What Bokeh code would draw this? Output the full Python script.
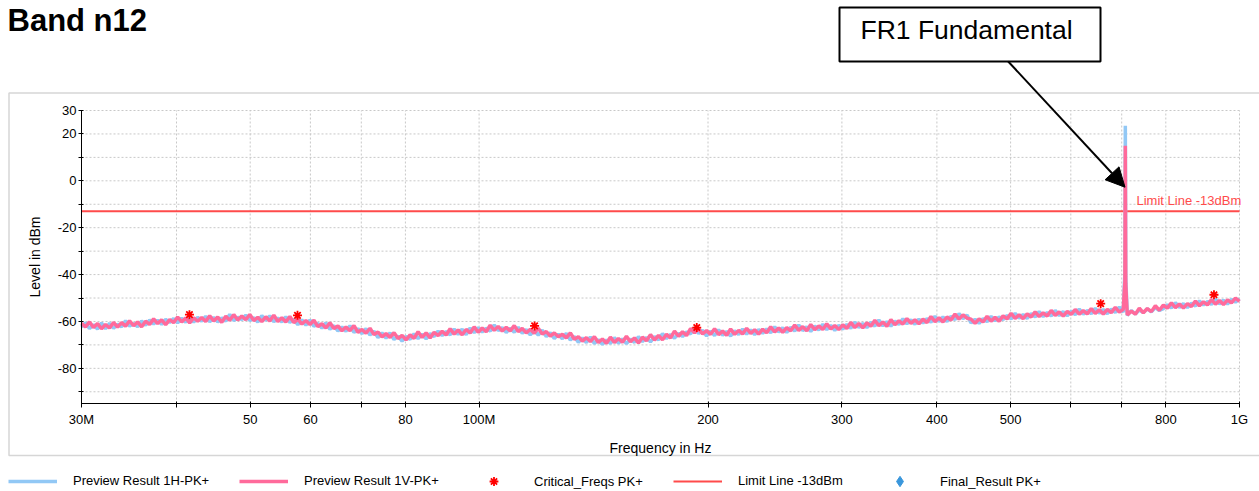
import numpy as np
from bokeh.plotting import figure
from bokeh.models import (Range1d, FixedTicker, Label, BoxAnnotation, Arrow,
                          NormalHead, Legend, LegendItem, LogAxis, LinearAxis,
                          Grid)
from bokeh.embed import file_html
from bokeh.resources import INLINE

# ---------------- data ----------------
sweep_start = 30e6
sweep_stop = 1e9

preview_1v = [
    -60.8, -62.3, -60.2, -62.6, -60.9, -63.1, -61.3, -62.8, -60.4, -62.4,
    -60.5, -62.0, -59.7, -61.8, -60.2, -62.3, -59.9, -61.3, -58.9, -60.9,
    -59.3, -61.4, -59.2, -60.5, -58.1, -60.2, -58.5, -60.6, -58.4, -59.9,
    -58.3, -60.0, -57.6, -59.8, -58.1, -60.4, -57.8, -59.5, -57.1, -59.4,
    -57.7, -59.3, -57.0, -59.6, -58.2, -60.1, -58.0, -59.8, -57.3, -60.0,
    -58.4, -60.2, -57.9, -60.5, -59.0, -61.1, -59.6, -61.3, -59.5, -62.2,
    -61.0, -62.8, -60.6, -63.0, -61.9, -64.0, -62.4, -63.9, -61.8, -64.6,
    -63.4, -65.0, -62.9, -65.6, -64.5, -66.6, -65.2, -66.8, -64.8, -67.3,
    -65.9, -67.9, -65.7, -67.2, -64.4, -66.8, -64.9, -67.0, -64.6, -66.0,
    -64.2, -65.8, -63.1, -65.4, -63.6, -65.7, -63.4, -64.9, -62.3, -64.6,
    -62.8, -64.4, -61.6, -63.8, -62.1, -64.1, -62.5, -64.0, -61.8, -64.3,
    -63.0, -64.9, -63.3, -65.0, -62.9, -65.4, -64.3, -66.3, -64.9, -66.5,
    -65.5, -67.0, -64.9, -67.6, -66.5, -68.4, -66.9, -68.6, -66.5, -69.0,
    -67.5, -69.3, -66.7, -69.0, -67.3, -68.9, -66.3, -68.7, -67.0, -69.2,
    -66.7, -68.2, -65.6, -67.9, -66.0, -67.8, -65.5, -67.0, -64.1, -66.3,
    -64.4, -66.0, -63.0, -64.8, -63.2, -65.3, -63.9, -65.5, -63.1, -65.6,
    -64.1, -65.9, -63.2, -65.5, -63.8, -65.3, -62.9, -65.1, -63.5, -65.4,
    -63.3, -64.8, -62.3, -64.5, -62.8, -64.6, -62.6, -64.0, -61.5, -63.8,
    -62.2, -64.0, -61.3, -63.5, -61.9, -63.4, -61.0, -63.2, -61.7, -63.5,
    -61.4, -63.0, -60.4, -62.6, -60.9, -62.7, -60.6, -62.0, -59.5, -61.8,
    -60.2, -62.1, -59.2, -61.4, -59.7, -61.1, -58.8, -60.8, -59.3, -61.0,
    -59.0, -60.5, -57.9, -60.1, -58.4, -60.2, -58.1, -59.4, -56.8, -59.0,
    -57.2, -58.6, -59.0, -60.8, -58.9, -60.2, -57.8, -59.9, -58.2, -59.9,
    -57.6, -58.9, -56.5, -58.7, -57.1, -58.8, -56.8, -58.1, -55.9, -57.9,
    -56.3, -57.7, -55.3, -57.4, -55.9, -57.7, -55.7, -57.0, -54.9, -56.9,
    -55.4, -56.8, -54.5, -56.6, -55.0, -56.8, -54.9, -56.2, -54.0, -56.0,
    -54.8, -57.2, -55.6, -56.9, -54.3, -56.3, -54.5, -55.8, -53.3, -55.2,
    -53.0, -54.3, -52.1, -54.1, -52.6, -54.3, -52.4, -53.6, -51.3, -53.3,
    -51.6, -52.9, -50.7, -52.6, -51.1, -52.8, -50.8, -52.1, -50.0, -51.4,
]

preview_1h = [
    -62.4, -60.6, -63.0, -61.4, -63.2, -60.6, -63.1, -60.8, -62.9, -61.2,
    -62.3, -59.7, -62.0, -60.9, -62.2, -59.8, -61.6, -59.4, -61.1, -59.5,
    -61.2, -59.1, -60.4, -58.8, -60.6, -58.6, -60.3, -58.2, -60.3, -58.2,
    -59.9, -57.8, -60.1, -58.3, -60.2, -58.5, -59.9, -57.0, -59.6, -58.2,
    -59.2, -57.3, -59.6, -58.4, -60.3, -57.5, -59.5, -57.6, -60.1, -58.5,
    -60.2, -58.0, -60.4, -59.1, -61.4, -59.3, -61.6, -59.4, -62.1, -60.8,
    -62.9, -60.6, -63.3, -61.8, -64.1, -62.3, -64.2, -61.8, -64.7, -63.1,
    -65.2, -63.1, -65.8, -64.2, -66.9, -64.9, -67.1, -64.9, -67.7, -66.2,
    -68.4, -66.4, -67.6, -65.3, -67.3, -65.4, -67.4, -65.2, -66.4, -64.1,
    -66.0, -64.3, -65.7, -63.2, -65.5, -63.3, -65.6, -62.8, -64.8, -62.6,
    -64.5, -62.9, -64.1, -61.5, -63.9, -62.6, -64.7, -62.9, -64.6, -62.5,
    -65.0, -63.5, -65.7, -63.9, -65.8, -63.7, -66.4, -64.8, -67.3, -65.4,
    -67.4, -65.1, -67.9, -66.4, -68.9, -67.0, -69.0, -66.6, -69.4, -67.8,
    -69.8, -67.9, -69.4, -66.9, -69.3, -67.4, -69.5, -67.5, -68.9, -66.5,
    -68.6, -66.8, -68.7, -66.5, -67.8, -65.2, -67.3, -65.6, -67.1, -65.1,
    -66.4, -64.5, -65.3, -62.7, -65.1, -63.8, -66.2, -64.1, -66.0, -63.5,
    -65.9, -64.3, -66.2, -64.0, -65.6, -63.2, -65.4, -63.6, -65.6, -63.5,
    -65.0, -63.2, -64.8, -62.3, -64.5, -62.7, -64.7, -62.5, -64.1, -61.5,
    -63.9, -62.3, -64.2, -62.0, -63.6, -61.2, -63.5, -61.7, -63.8, -61.6,
    -63.2, -61.3, -62.9, -60.3, -62.6, -60.8, -62.6, -60.4, -62.0, -59.4,
    -61.9, -60.1, -62.0, -59.8, -61.3, -58.9, -61.0, -59.3, -61.2, -59.0,
    -60.7, -58.8, -60.3, -57.8, -60.0, -58.1, -60.0, -57.8, -59.2, -56.7,
    -58.8, -57.3, -60.6, -59.1, -60.8, -58.8, -60.1, -57.8, -59.7, -58.1,
    -59.2, -57.5, -58.9, -56.5, -58.6, -57.0, -58.7, -56.7, -58.1, -55.8,
    -57.9, -56.2, -57.6, -55.3, -57.5, -55.8, -57.6, -55.6, -57.1, -54.7,
    -56.9, -55.3, -56.7, -54.4, -56.5, -54.9, -56.7, -54.7, -56.1, -53.9,
    -56.0, -57.4, -55.4, -56.8, -55.1, -56.2, -54.6, -55.9, -54.1, -55.3,
    -54.5, -52.9, -54.2, -52.0, -54.0, -52.4, -54.1, -52.2, -53.4, -51.2,
    -53.0, -51.5, -52.7, -50.5, -52.5, -50.9, -52.6, -50.6, -51.7, -50.4,
]

peak_freqs = [705.5e6, 706.8e6, 707.7e6, 708.6e6, 710.0e6]
peak_1v = [-47.0, -43.0, 15.0, -44.0, -50.0]
peak_1h = [-45.0, -39.5, 23.5, -41.0, -48.0]

critical_freqs = [41.6e6, 57.7e6, 118.3e6, 193.3e6, 656.8e6, 925.6e6]
critical_levels = [-57.1, -57.4, -61.9, -62.6, -52.4, -48.6]

limit_freqs = [30e6, 1e9]
limit_levels = [-13, -13]

# no final result point is visible in the diagram (NaN = not measured)
final_freqs = [float("nan")]
final_levels = [float("nan")]

x_limits = [30e6, 1e9]
y_limits = [-95, 30]
x_ticks = [30000000, 40000000, 50000000, 60000000, 70000000, 80000000,
           100000000, 200000000, 300000000, 400000000, 500000000,
           600000000, 700000000, 800000000, 1000000000]
x_tick_labels = ["30M", "", "50", "60", "", "80", "100M", "200", "300",
                 "400", "500", "", "", "800", "1G"]
y_ticks = [-90, -80, -70, -60, -50, -40, -30, -20, -10, 0, 10, 20, 30]
y_tick_labels = ["", "-80", "", "-60", "", "-40", "", "-20", "", "0", "", "20", "30"]


def trace(levels, pk_levels):
    f = np.concatenate([np.geomspace(sweep_start, sweep_stop, len(levels)), peak_freqs])
    v = np.concatenate([levels, pk_levels])
    o = np.argsort(f)
    return f[o], v[o]


f1h, v1h = trace(preview_1h, peak_1h)
f1v, v1v = trace(preview_1v, peak_1v)

FONT = "Liberation Sans"

# ---------------- geometry: the frame fills the whole canvas ----------------
W, H = 1259, 491
PL, PR, PT, PB = 81, 1239, 110, 403       # diagram area in page pixels
DEC = np.log10(x_limits[1] / x_limits[0])


def fx(px):   # page x -> frequency (log axis)
    return x_limits[0] * 10 ** ((px - PL) / (PR - PL) * DEC)


def fy(py):   # page y -> level
    return y_limits[1] - (py - PT) / (PB - PT) * (y_limits[1] - y_limits[0])


p = figure(width=W, height=H, x_axis_type="log",
           x_axis_location=None, y_axis_location=None,
           x_range=Range1d(fx(0), fx(W)), y_range=Range1d(fy(H), fy(0)),
           output_backend="svg", toolbar_location=None,
           min_border=0, min_border_left=0, min_border_right=0,
           min_border_top=0, min_border_bottom=0)
p.outline_line_color = None
p.background_fill_color = "white"
p.border_fill_color = "white"
for g in p.select(type=Grid):
    g.visible = False

# outer light frame around the diagram area
p.add_layout(BoxAnnotation(left=fx(8.5), right=fx(1300), top=fy(92.5), bottom=fy(455),
                           fill_alpha=0, line_color="#d6d6d6", line_alpha=1,
                           line_width=1.5, level="underlay"))

# grid lines, limited to the diagram area
n_x, n_y = len(x_ticks), len(y_ticks)
p.segment(x0=x_ticks, y0=[y_limits[0]] * n_x, x1=x_ticks, y1=[y_limits[1]] * n_x,
          line_color="#c8c8c8", line_dash="2 2", line_width=1)
p.segment(x0=[x_limits[0]] * n_y, y0=y_ticks, x1=[x_limits[1]] * n_y, y1=y_ticks,
          line_color="#c8c8c8", line_dash="2 2", line_width=1)

r_lim = p.line(limit_freqs, limit_levels, color="#ff4b4b", line_width=2)
r_1h = p.line(f1h, v1h, color="#92c8f5", line_width=3.5)
r_1v = p.line(f1v, v1v, color="#ff6a9b", line_width=3.5)
r_crit = p.scatter(critical_freqs, critical_levels, marker="asterisk", size=9,
                   line_width=1.8, color="#ff0000")
r_fin = p.scatter(final_freqs, final_levels, marker="diamond", size=13,
                  color="#3a97dc")

# axes fixed at the edges of the diagram area
xa = LogAxis(ticker=FixedTicker(ticks=x_ticks, minor_ticks=[]),
             fixed_location=y_limits[0], bounds=tuple(x_limits),
             axis_label="Frequency in Hz")
xa.major_label_overrides = {t: l for t, l in zip(x_ticks, x_tick_labels)}
ya = LinearAxis(ticker=FixedTicker(ticks=y_ticks, minor_ticks=[]),
                fixed_location=x_limits[0], bounds=tuple(y_limits),
                axis_label="Level in dBm")
ya.major_label_overrides = {t: l for t, l in zip(y_ticks, y_tick_labels)}

for ax in (xa, ya):
    ax.axis_line_color = "black"
    ax.axis_line_width = 1
    ax.major_tick_line_color = "black"
    ax.major_tick_in = 2
    ax.minor_tick_line_color = None
    ax.major_label_text_font = FONT
    ax.major_label_text_font_size = "13px"
    ax.major_label_text_color = "black"
    ax.axis_label_text_font = FONT
    ax.axis_label_text_font_size = "14px"
    ax.axis_label_text_font_style = "normal"
    ax.axis_label_text_color = "black"

xa.major_tick_out = 4
xa.major_label_standoff = 4
xa.axis_label_standoff = 10
ya.major_tick_out = 3
ya.major_label_standoff = 2
ya.axis_label_standoff = 12
p.add_layout(xa, "below")
p.add_layout(ya, "left")

# title
p.add_layout(Label(x=fx(7), y=fy(37), text="Band n12", text_font=FONT,
                   text_font_size="31px", text_font_style="bold",
                   text_color="black"))

# annotation box with arrow
p.add_layout(BoxAnnotation(left=fx(839), right=fx(1100), top=fy(7), bottom=fy(61),
                           fill_color="white", fill_alpha=1,
                           line_color="black", line_alpha=1, line_width=2))
p.add_layout(Label(x=fx(860), y=fy(44), text="FR1 Fundamental", text_font=FONT,
                   text_font_size="26.5px", text_color="black"))
p.add_layout(Arrow(x_start=fx(1007.7), y_start=fy(61), x_end=fx(1124.5), y_end=fy(186.7),
                   line_color="black", line_width=2,
                   end=NormalHead(size=19, fill_color="black",
                                  line_color="black")))

# limit line text
p.add_layout(Label(x=fx(1136), y=limit_levels[0], y_offset=3,
                   text="Limit Line -13dBm", text_font=FONT,
                   text_font_size="13px", text_color="#ff4b4b"))

# legend: one entry per block, placed like the reference's legend row
entries = [("Preview Result 1H-PK+", r_1h, 8, 14),
           ("Preview Result 1V-PK+", r_1v, 239, 14),
           ("Critical_Freqs PK+", r_crit, 469, 22),
           ("Limit Line -13dBm", r_lim, 673, 14),
           ("Final_Result PK+", r_fin, 875, 26)]
for label, rend, lx, gh in entries:
    p.add_layout(Legend(items=[LegendItem(label=label, renderers=[rend])],
                        orientation="horizontal", location=(lx, 10 - gh // 2),
                        border_line_color=None, background_fill_alpha=0,
                        padding=0, margin=0, glyph_width=49, glyph_height=gh,
                        label_height=14, label_standoff=16,
                        label_text_font=FONT, label_text_font_size="13px",
                        label_text_color="black"))

open("out.html", "w").write(file_html(p, INLINE))
